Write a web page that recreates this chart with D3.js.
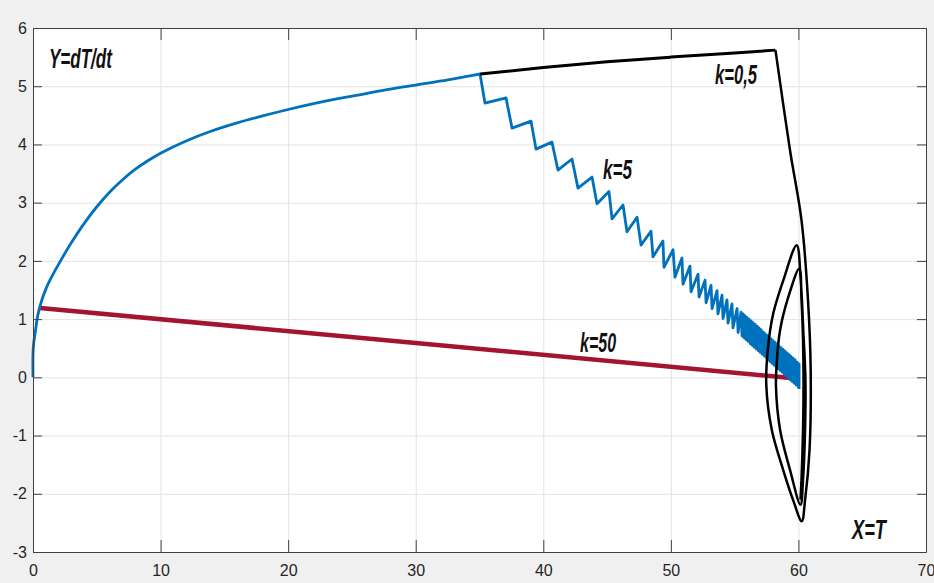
<!DOCTYPE html>
<html>
<head>
<meta charset="utf-8">
<script src="https://cdn.jsdelivr.net/npm/d3@7/dist/d3.min.js"></script>
<style>
  body { margin: 0; background: #f0f0f0; }
  .axis path, .axis line { stroke: #404040; stroke-width: 1; }
  .axis text { font-family: "Liberation Sans Narrow", "Liberation Sans", Arial, sans-serif; font-size: 16px; fill: #262626; }
  .grid line { stroke: #e3e3e3; stroke-width: 1; }
  .grid path { display: none; }
  .note { font-family: "Liberation Sans Narrow", "Liberation Sans", Arial, sans-serif; font-weight: bold; font-style: italic; font-size: 27px; fill: #111; }
</style>
</head>
<body>
<div id="chart"></div>
<script>
// ticks
const xTicks = [0, 10, 20, 30, 40, 50, 60, 70];
const yTicks = [-3, -2, -1, 0, 1, 2, 3, 4, 5, 6];

// common rising part (blue)
const riseX = [0, 0.02, 0.2, 0.37, 0.68, 1.07, 1.33, 2, 3, 4, 5, 6, 7, 8, 9, 10, 12, 14, 16, 18, 20, 22, 24, 26, 28, 30, 32, 34, 35.04];
const riseY = [0, 0.5, 0.81, 1.06, 1.32, 1.55, 1.67, 1.94, 2.31, 2.64, 2.93, 3.18, 3.39, 3.57, 3.72, 3.85, 4.06, 4.23, 4.37, 4.49, 4.60, 4.70, 4.79, 4.87, 4.95, 5.02, 5.09, 5.17, 5.21];

// k=5 zigzag (blue)
const k5X = [35.04, 35.43, 37.08, 37.55, 39.04, 39.43, 40.68, 41.15, 42.25, 42.72, 43.82, 44.21, 45.15, 45.39,
  46.25, 46.56, 47.35, 47.66, 48.44, 48.60, 49.38, 49.46, 50.17, 50.32, 50.87, 50.95, 51.50, 51.58, 52.13, 52.21,
  52.68, 52.76, 53.15, 53.23, 53.62, 53.69, 54.01, 54.09, 54.40, 54.48, 54.79, 54.87, 55.19, 55.27,
  55.50, 55.58, 55.66, 55.74, 55.81, 55.89, 55.97, 56.05, 56.13, 56.21, 56.29, 56.37, 56.44, 56.52,
  56.60, 56.68, 56.76, 56.84, 56.91, 56.99, 57.07, 57.15, 57.23, 57.31, 57.38, 57.46, 57.54, 57.62,
  57.70, 57.78, 57.86, 57.94, 58.01, 58.09, 58.17, 58.25, 58.33, 58.41, 58.48, 58.56, 58.64, 58.72,
  58.80, 58.88, 58.95, 59.03, 59.11, 59.19, 59.27, 59.35, 59.42, 59.50, 59.58, 59.66, 59.74, 59.82,
  59.90, 59.98, 60.05, 60.05];
const k5Y = [5.21, 4.71, 4.80, 4.28, 4.40, 3.92, 4.04, 3.56, 3.75, 3.25, 3.44, 2.98, 3.19, 2.72,
  2.96, 2.50, 2.75, 2.27, 2.51, 2.07, 2.34, 1.89, 2.19, 1.72, 2.05, 1.60, 1.91, 1.47, 1.77, 1.38,
  1.67, 1.28, 1.58, 1.18, 1.49, 1.09, 1.41, 1.01, 1.33, 0.93, 1.26, 0.85, 1.18, 0.77,
  1.12, 0.71, 1.09, 0.68, 1.06, 0.65, 1.03, 0.62, 1.00, 0.58, 0.97, 0.55, 0.94, 0.52,
  0.91, 0.49, 0.88, 0.46, 0.85, 0.43, 0.82, 0.40, 0.78, 0.37, 0.75, 0.34, 0.72, 0.30,
  0.69, 0.27, 0.66, 0.24, 0.63, 0.21, 0.60, 0.18, 0.57, 0.15, 0.54, 0.12, 0.51, 0.09,
  0.48, 0.05, 0.45, 0.02, 0.42, -0.01, 0.39, -0.04, 0.36, -0.07, 0.33, -0.10, 0.30, -0.13,
  0.26, -0.16, 0.23, -0.20];

// k=0,5 (black): upper branch, then the loops near T=60
const k05TopX = [35.04, 40, 45, 50, 55, 58.2];
const k05TopY = [5.21, 5.32, 5.42, 5.5, 5.57, 5.62];
const k05LoopX = [58.2, 59.34, 60.24, 60.75, 60.96, 60.87, 60.52, 60.26,
  59.57, 58.79, 57.91, 57.48, 57.62, 58.03, 58.82, 59.86,
  60.18, 60.38, 60.55, 60.52, 60.36, 60.16,
  59.34, 58.56, 58.24, 58.30, 58.56, 59.21, 60.07,
  60.24, 60.36, 60.40, 60.36, 60.24, 60.16];
const k05LoopY = [5.62, 3.90, 2.70, 1.33, 0.13, -1.25, -2.11, -2.47,
  -2.10, -1.58, -0.90, -0.13, 0.52, 1.10, 1.67, 2.27,
  1.67, 0.81, -0.05, -0.90, -1.76, -2.19,
  -1.59, -0.90, -0.16, 0.25, 0.81, 1.38, 1.87,
  1.33, 0.64, -0.05, -0.90, -1.76, -2.10];

// k=50 (red)
const k50X = [0.55, 30, 59.4];
const k50Y = [1.19, 0.59, -0.01];

const W = 934, H = 583;
const margin = { top: 28, right: 8, bottom: 31, left: 33 };
const width = W - margin.left - margin.right;
const height = H - margin.top - margin.bottom;

const svg = d3.select("#chart").append("svg")
  .attr("width", W)
  .attr("height", H);

svg.append("rect").attr("width", W).attr("height", H).attr("fill", "#f0f0f0");

const g = svg.append("g").attr("transform", `translate(${margin.left},${margin.top})`);

g.append("rect").attr("width", width).attr("height", height).attr("fill", "#fff");

const x = d3.scaleLinear().domain([0, 70]).range([0, width]);
const y = d3.scaleLinear().domain([-3, 6]).range([height, 0]);

// grid
g.append("g").attr("class", "grid")
  .attr("transform", `translate(0,${height})`)
  .call(d3.axisBottom(x).tickValues(xTicks.slice(1, -1)).tickSize(-height).tickFormat(""));
g.append("g").attr("class", "grid")
  .call(d3.axisLeft(y).tickValues(yTicks.slice(1, -1)).tickSize(-width).tickFormat(""));

const pts = (xs, ys) => xs.map((v, i) => [v, ys[i]]);

const lineLin = d3.line().x(d => x(d[0])).y(d => y(d[1]));
const lineCR = d3.line().x(d => x(d[0])).y(d => y(d[1])).curve(d3.curveCatmullRom.alpha(0.5));
const lineMono = d3.line().x(d => x(d[0])).y(d => y(d[1])).curve(d3.curveMonotoneX);

const plot = g.append("g");

plot.append("path")
  .attr("d", lineLin(pts(k50X, k50Y)))
  .attr("fill", "none").attr("stroke", "#a2142f").attr("stroke-width", 4.5);

plot.append("path")
  .attr("d", lineCR(pts(riseX, riseY)))
  .attr("fill", "none").attr("stroke", "#0072bd").attr("stroke-width", 2.8);

plot.append("path")
  .attr("d", lineLin(pts(k5X, k5Y)))
  .attr("fill", "none").attr("stroke", "#0072bd").attr("stroke-width", 2.8)
  .attr("stroke-linejoin", "round");

plot.append("path")
  .attr("d", lineMono(pts(k05TopX, k05TopY)))
  .attr("fill", "none").attr("stroke", "#000").attr("stroke-width", 3);

plot.append("path")
  .attr("d", lineCR(pts(k05LoopX, k05LoopY)))
  .attr("fill", "none").attr("stroke", "#000").attr("stroke-width", 2.5)
  .attr("stroke-linejoin", "round");

// axes (ticks inside, box)
const fmt = d => String(d);
g.append("g").attr("class", "axis")
  .attr("transform", `translate(0,${height})`)
  .call(d3.axisBottom(x).tickValues(xTicks).tickFormat(fmt).tickSizeInner(-12).tickSizeOuter(0).tickPadding(13));
g.append("g").attr("class", "axis")
  .call(d3.axisLeft(y).tickValues(yTicks).tickFormat(fmt).tickSizeInner(-9).tickSizeOuter(0).tickPadding(6));
g.append("g").attr("class", "axis")
  .call(d3.axisTop(x).tickValues(xTicks).tickSizeInner(-12).tickSizeOuter(0).tickFormat(""));
g.append("g").attr("class", "axis")
  .attr("transform", `translate(${width},0)`)
  .call(d3.axisRight(y).tickValues(yTicks).tickSizeInner(-9).tickSizeOuter(0).tickFormat(""));

// labels
const notes = [
  { t: "Y=dT/dt", x: 1.25, y: 5.31, w: 63 },
  { t: "k=0,5", x: 53.46, y: 5.04, w: 42 },
  { t: "k=5", x: 44.68, y: 3.40, w: 29 },
  { t: "k=50", x: 42.88, y: 0.43, w: 36 },
  { t: "X=T", x: 64.2, y: -2.78, w: 34 }
];
g.selectAll(".note").data(notes).enter().append("text")
  .attr("class", "note")
  .attr("x", d => x(d.x))
  .attr("y", d => y(d.y))
  .attr("textLength", d => d.w)
  .attr("lengthAdjust", "spacingAndGlyphs")
  .text(d => d.t);
</script>
</body>
</html>
